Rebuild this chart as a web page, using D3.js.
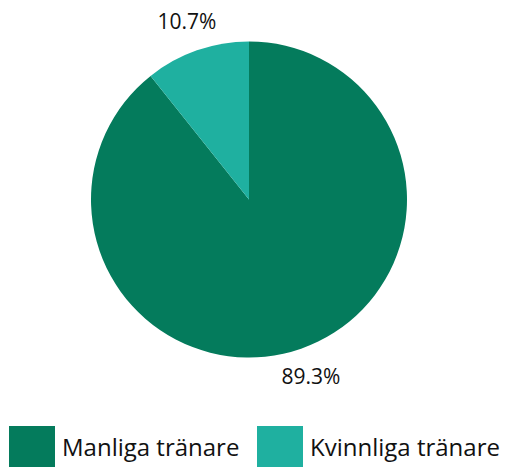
<!DOCTYPE html>
<html lang="en">
<head>
<meta charset="utf-8">
<script src="https://d3js.org/d3.v7.min.js"></script>
<style>
    body { margin: 0; background: #fff; }
    text { font-family: "Open Sans", Lato, sans-serif; fill: #111; }
</style>
</head>
<body>
<script>
    // Data
    const categories = ["Manliga tränare", "Kvinnliga tränare"];
    const shares = [89.3, 10.7];
    const colors = ["#047b5c", "#1fb0a0"];

    const width = 507, height = 467;
    const cx = 249, cy = 199.5, radius = 158;

    const svg = d3.select("body").append("svg")
        .attr("width", width)
        .attr("height", height);

    const pie = d3.pie().sort(null).value(d => d.value);
    const arcs = pie(categories.map((c, i) => ({ name: c, value: shares[i] })));

    const arc = d3.arc().innerRadius(0).outerRadius(radius);
    const labelArc = d3.arc().innerRadius(188).outerRadius(188);

    const color = d3.scaleOrdinal().domain(categories).range(colors);

    const g = svg.append("g").attr("transform", `translate(${cx},${cy})`);

    g.selectAll("path")
        .data(arcs)
        .enter()
        .append("path")
        .attr("d", arc)
        .attr("fill", d => color(d.data.name));

    g.selectAll("text.lbl")
        .data(arcs)
        .enter()
        .append("text")
        .attr("class", "lbl")
        .attr("transform", d => `translate(${labelArc.centroid(d)})`)
        .attr("text-anchor", "middle")
        .attr("dy", "0.35em")
        .style("font-size", "21px")
        .text(d => d.data.value.toFixed(1) + "%");

    // legend
    const legendX = [9, 257];
    const legend = svg.selectAll("g.legend")
        .data(categories)
        .enter()
        .append("g")
        .attr("class", "legend")
        .attr("transform", (d, i) => `translate(${legendX[i]},426)`);

    legend.append("rect")
        .attr("width", 46)
        .attr("height", 46)
        .attr("fill", d => color(d));

    legend.append("text")
        .attr("x", 53)
        .attr("y", 30)
        .style("font-size", "24px")
        .text(d => d);
</script>
</body>
</html>
